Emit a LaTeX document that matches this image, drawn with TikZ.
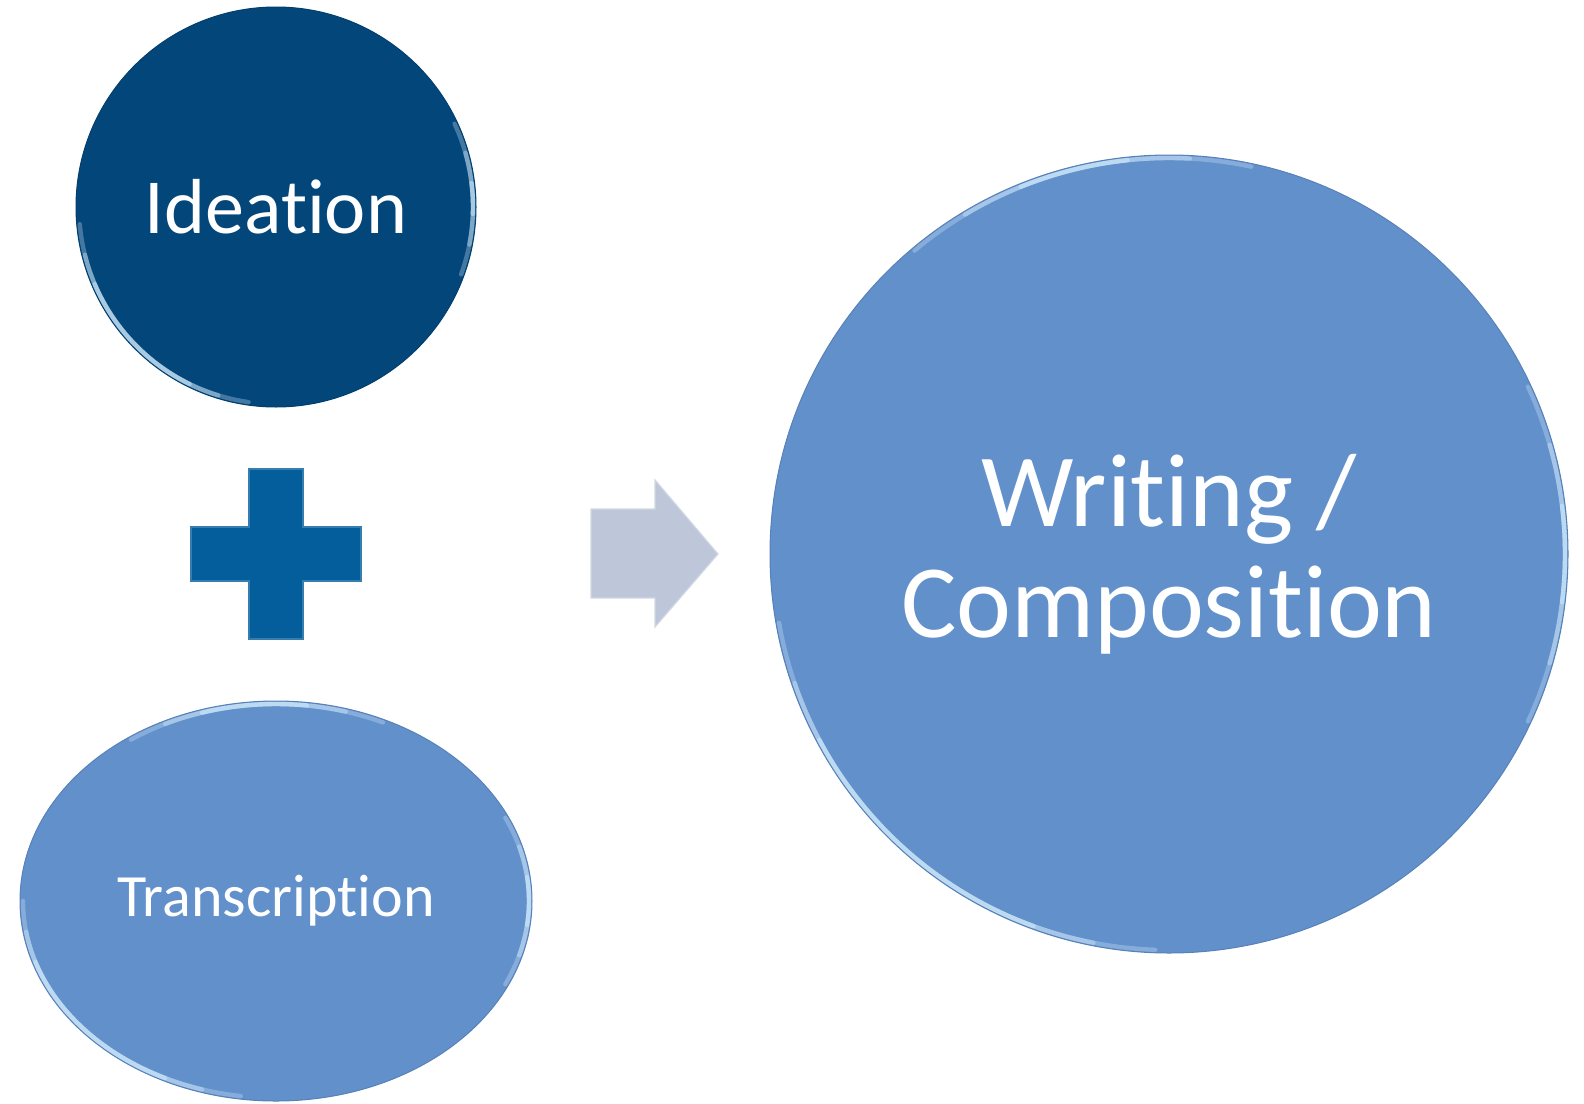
\documentclass[tikz,border=0pt]{standalone}
\usepackage{fontspec}
\setmainfont{Carlito}[Ligatures={NoCommon,NoContextual}]
\usetikzlibrary{shapes.geometric}
\definecolor{cnavy}{HTML}{03467A}
\definecolor{cplus}{HTML}{045E9B}
\definecolor{cbubble}{HTML}{6290CB}
\definecolor{carrowfill}{HTML}{BDC7D9}
\definecolor{crim}{HTML}{D6EEFF}
% soft highlight along part of an elliptic node border (three stacked arcs)
\newcommand{\glint}[5]{%
  \foreach \k/\op in {0/0.3, 1/0.4, 2/0.5} {
    \draw[rim, opacity=\op] ([shift={({#2+\k*9}:#4 and #5)}]#1.center)
      arc[start angle={#2+\k*9}, end angle={#3-\k*9}, x radius=#4, y radius=#5];
  }}

\begin{document}
\begin{tikzpicture}[
  x=0.5pt, y=0.5pt,
  bubble/.style={ellipse, inner sep=0pt, text=white, align=center,
                 fill=cbubble, draw=cbubble!90!black, line width=0.5pt},
  dark/.style={bubble, fill=cnavy, draw=cnavy!90!black},
  rim/.style={draw=crim, line width=2.2pt, line cap=round},
  cross/.style={fill=cplus, draw=cplus!80!white, line width=0.6pt,
                line join=miter},
  flow/.style={fill=carrowfill, draw=carrowfill!70!white, line width=0.6pt,
               line join=miter}
]
\useasboundingbox (0,0) rectangle (1584,-1103);

% inputs on the left
\node[dark, minimum width=200pt, minimum height=200pt,
      font=\fontsize{39}{47}\selectfont] (ideation) at (276,-207) {Ideation};
\node[bubble, minimum width=256pt, minimum height=200pt,
      font=\fontsize{30}{36}\selectfont] (transcription) at (276,-901) {Transcription};

% result on the right
\node[bubble, minimum width=399pt, minimum height=399pt,
      font=\fontsize{52}{55.5}\selectfont] (writing) at (1169,-554)
      {Writing /\\Composition};

% highlights
\glint{ideation}{185}{262}{197}{197}
\glint{ideation}{340}{385}{197}{197}
\glint{transcription}{180}{262}{253}{197}
\glint{transcription}{335}{385}{253}{197}
\glint{transcription}{65}{125}{253}{197}
\glint{writing}{190}{268}{396}{396}
\glint{writing}{335}{385}{396}{396}
\glint{writing}{78}{130}{396}{396}

% plus sign
\coordinate (plus) at (276,-554);
\draw[cross] (plus) ++(-27,85) -- ++(54,0) -- ++(0,-58) -- ++(58,0)
  -- ++(0,-54) -- ++(-58,0) -- ++(0,-58) -- ++(-54,0) -- ++(0,58)
  -- ++(-58,0) -- ++(0,54) -- ++(58,0) -- cycle;

% block arrow
\coordinate (tip) at (718,-554);
\draw[flow] (tip) -- ++(-63,74) -- ++(0,-29) -- ++(-64,0) -- ++(0,-89)
  -- ++(64,0) -- ++(0,-29) -- cycle;
\end{tikzpicture}
\end{document}
